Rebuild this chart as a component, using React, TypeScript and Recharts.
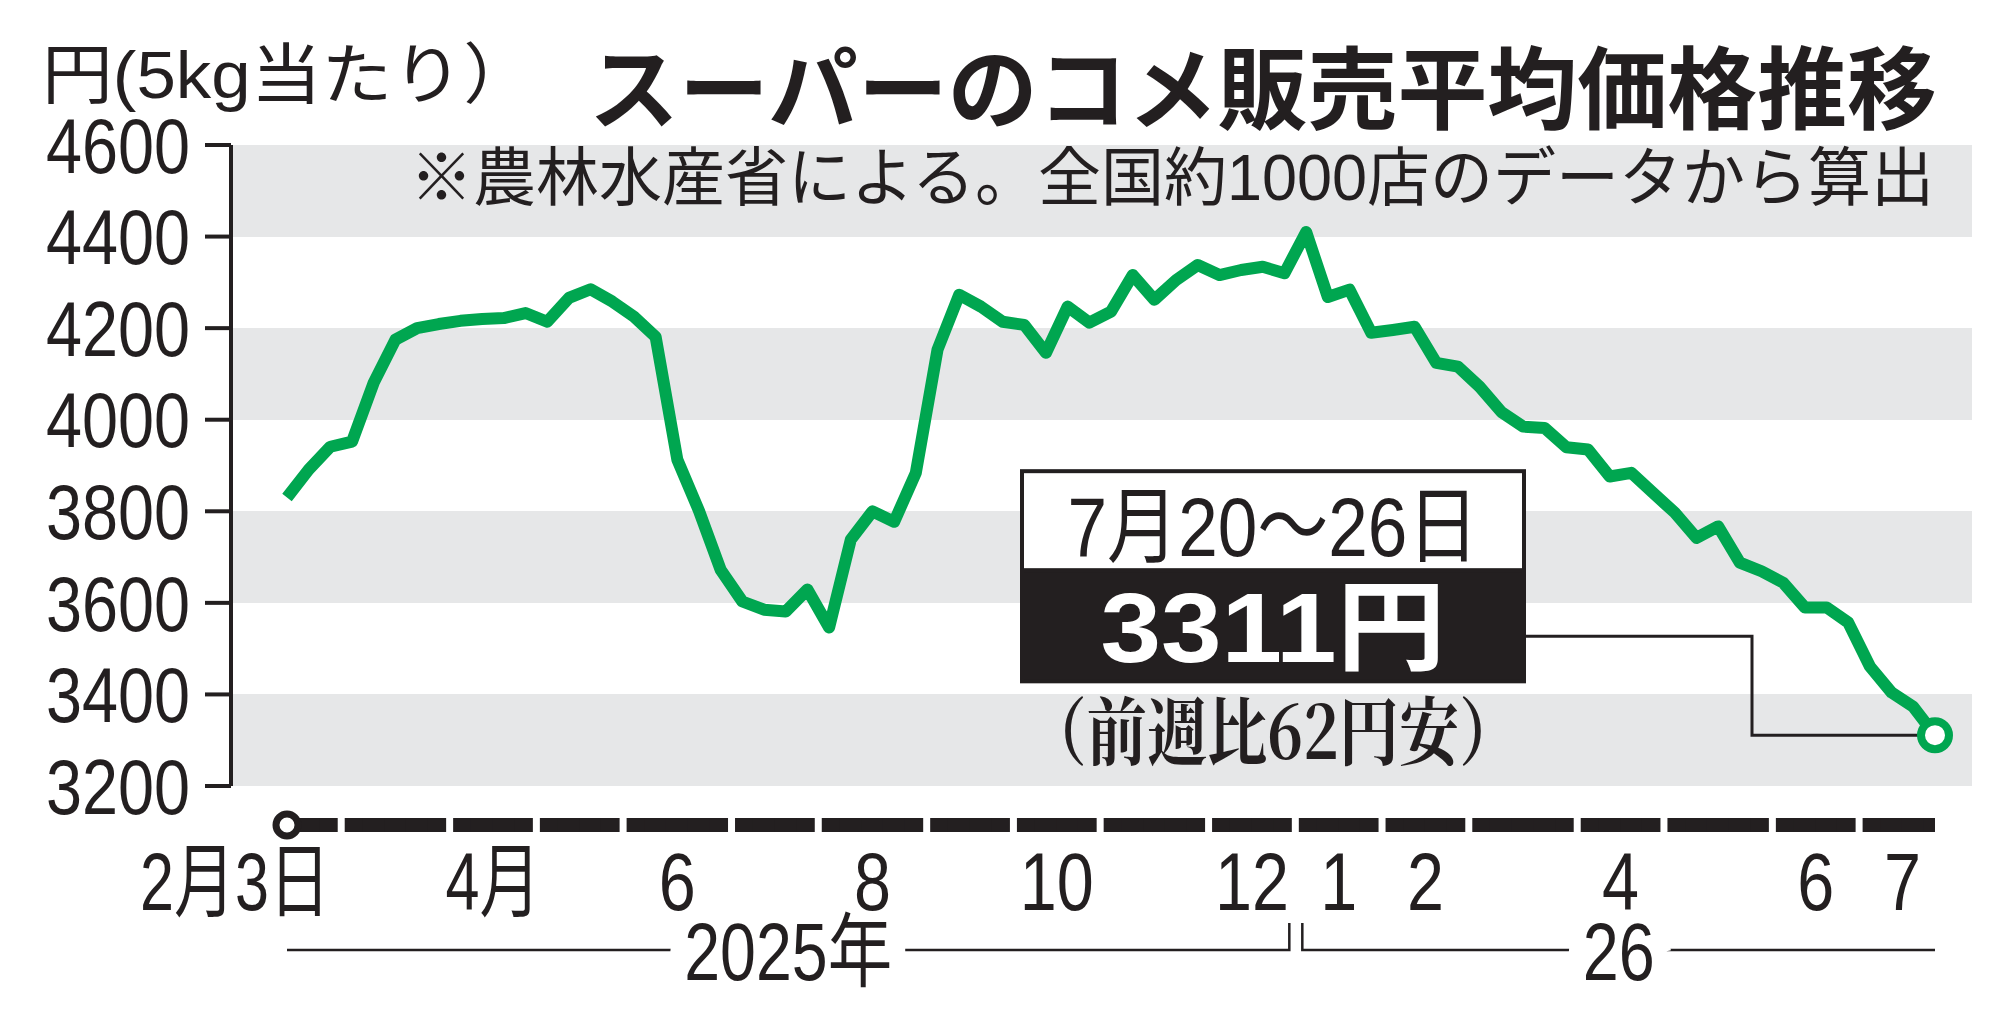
import { LineChart, Line, XAxis, YAxis, CartesianGrid } from 'recharts';

const INK = '#231f20';
const GREEN = '#00a650';
const BAND = '#e6e7e8';
const NARROW = "'Liberation Sans Narrow', 'Liberation Sans', 'Noto Sans CJK JP', sans-serif";
const GOTHIC = "'Noto Sans CJK JP', sans-serif";

// スーパーのコメ平均価格（円/5kg）、2025年2月3日の週から毎週
const prices = [
    3830, 3891, 3941, 3952, 4081, 4175, 4200, 4209, 4216, 4220,
    4222, 4233, 4214, 4266, 4285, 4258, 4225, 4181, 3913, 3801,
    3672, 3603, 3585, 3581, 3629, 3546, 3738, 3800, 3777, 3884,
    4153, 4273, 4247, 4214, 4207, 4146, 4247, 4212, 4236, 4316,
    4262, 4305, 4338, 4316, 4327, 4334, 4320, 4410, 4268, 4284,
    4190, 4196, 4203, 4124, 4116, 4072, 4017, 3985, 3982, 3940,
    3935, 3876, 3884, 3840, 3797, 3742, 3767, 3688, 3669, 3644,
    3590, 3590, 3557, 3461, 3404, 3373, 3311,
];
const firstWeek = '2025-02-03';

const yTicks = [3200, 3400, 3600, 3800, 4000, 4200, 4400, 4600];
const monthTickKeys = [
    '2025-02', '2025-04', '2025-06', '2025-08', '2025-10', '2025-12',
    '2026-01', '2026-02', '2026-04', '2026-06', '2026-07',
];
const monthTickLabels = ['2月3日', '4月', '6', '8', '10', '12', '1', '2', '4', '6', '7'];
const yearLabels = ['2025年', '26'];

const unitLabel = '円(5kg当たり）';
const title = 'スーパーのコメ販売平均価格推移';
const note = '※農林水産省による。全国約1000店のデータから算出';
const latestWeek = '7月20〜26日';
const latestPrice = '3311円';
const latestChange = '（前週比62円安）';

const addDays = (iso: string, n: number) => {
    const d = new Date(iso + 'T00:00:00Z');
    d.setUTCDate(d.getUTCDate() + n);
    return d.toISOString().slice(0, 10);
};

// 週の最終日で月・年に振り分ける
const data = prices.map((price, i) => {
    const start = addDays(firstWeek, 7 * i);
    const end = addDays(start, 6);
    return { i, start, month: end.slice(0, 7), year: end.slice(0, 4), price };
});

const monthTicks = monthTickKeys.map((key, k) => {
    const idx = data.filter((d) => d.month === key).map((d) => d.i);
    const value = k === 0 ? idx[0] : (idx[0] + idx[idx.length - 1]) / 2;
    return { value, label: monthTickLabels[k] };
});

// 縦長の書体に寄せるための文字幅
const squeeze = (s: string, digitW: number, cjkW: number) => ({
    textLength: Array.from(s).reduce((w, ch) => w + (/[0-9]/.test(ch) ? digitW : cjkW), 0),
    lengthAdjust: 'spacingAndGlyphs',
});

const YTick = ({ x, y, payload }: any) => (
    <text
        x={x}
        y={y}
        dy="0.36em"
        textAnchor="end"
        fontFamily={NARROW}
        fontSize={77}
        fill={INK}
        {...squeeze(String(payload.value), 36, 36)}
    >
        {payload.value}
    </text>
);

const MonthTick = ({ x, y, payload }: any) => {
    const k = monthTicks.findIndex((t) => t.value === payload.value);
    if (k < 0) return null;
    const label = monthTicks[k].label;
    const first = k === 0;
    return (
        <text
            x={first ? x + 43 : x}
            y={y + 124}
            textAnchor={first ? 'end' : 'middle'}
            fontFamily={NARROW}
            fontSize={81}
            fill={INK}
            {...squeeze(label, 37, 58)}
        >
            {label}
        </text>
    );
};

const renderDot = (props: any) => {
    const { cx, cy, index, points } = props;
    const key = `dot-${index}`;
    if (!points || cx == null) return <g key={key} />;
    const n = points.length;
    const a = points[0];
    const b = points.reduce((m: any, p: any) => (p.value > m.value ? p : m), a);
    const yOf = (v: number) => a.y + ((v - a.value) * (b.y - a.y)) / (b.value - a.value);
    const barY = yOf(yTicks[0]) + 39;
    const lineY = barY + 125;
    const d = data[index];
    const prev = points[index - 1];
    const next = points[index + 1];

    let left = prev ? (prev.x + cx) / 2 - 0.5 : cx;
    if (prev && data[index - 1].month !== d.month) left += 4;
    let right = next ? (cx + next.x) / 2 + 0.5 : cx;
    if (next && data[index + 1].month !== d.month) right -= 4;

    const parts: any[] = [
        <rect key="bar" x={left} y={barY - 7} width={right - left} height={14} fill={INK} />,
    ];

    // 年の区切り線
    if (!prev || data[index - 1].year !== d.year) {
        const yk = Array.from(new Set(data.map((r) => r.year))).indexOf(d.year);
        let last = index;
        while (last + 1 < n && data[last + 1].year === d.year) last++;
        const x0 = prev ? (prev.x + cx) / 2 + 7 : cx;
        const x1 = last + 1 < n ? (points[last].x + points[last + 1].x) / 2 - 6 : points[last].x;
        const path = [
            prev ? `M${x0},${lineY - 27}L${x0},${lineY}` : `M${x0},${lineY}`,
            `L${x1},${lineY}`,
            last + 1 < n ? `L${x1},${lineY - 27}` : '',
        ].join('');
        const label = yearLabels[yk];
        parts.push(
            <path key="yr" d={path} fill="none" stroke={INK} strokeWidth={2.5} />,
            <text
                key="yrt"
                x={(x0 + x1) / 2}
                y={lineY + 30}
                textAnchor="middle"
                fontFamily={NARROW}
                fontSize={81}
                fill={INK}
                stroke="#fff"
                strokeWidth={40}
                paintOrder="stroke"
                {...squeeze(label, 36, 64)}
            >
                {label}
            </text>,
        );
    }

    if (index === n - 1) {
        const boxL = cx - 913;
        const boxR = cx - 411;
        const boxT = cy - 264;
        const boxM = cy - 165;
        const boxB = cy - 54;
        const mid = (boxL + boxR) / 2;
        parts.push(
            <path
                key="conn"
                d={`M${boxR},${cy - 99}L${cx - 183},${cy - 99}L${cx - 183},${cy}L${cx},${cy}`}
                fill="none"
                stroke={INK}
                strokeWidth={3}
            />,
            <rect key="box" x={boxL} y={boxT} width={boxR - boxL} height={boxB - boxT} fill="#fff" stroke={INK} strokeWidth={4} />,
            <rect key="boxb" x={boxL} y={boxM} width={boxR - boxL} height={boxB - boxM} fill={INK} stroke={INK} strokeWidth={4} />,
            <text key="t1" x={mid} y={cy - 179} textAnchor="middle" fontFamily={NARROW} fontSize={84} fill={INK} textLength={411} lengthAdjust="spacingAndGlyphs">
                {latestWeek}
            </text>,
            <text key="t2" x={mid} y={cy - 73} textAnchor="middle" fontFamily="'Liberation Sans', 'Noto Sans CJK JP', sans-serif" fontWeight={700} fontSize={99} fill="#fff" textLength={345} lengthAdjust="spacingAndGlyphs">
                {latestPrice}
            </text>,
            <text key="t3" x={mid} y={cy + 24} textAnchor="middle" fontFamily="'Noto Serif CJK JP', 'Noto Sans CJK JP', serif" fontWeight={700} fontSize={74} fill={INK} textLength={493} lengthAdjust="spacingAndGlyphs">
                {latestChange}
            </text>,
            <circle key="end" cx={cx} cy={cy} r={14} fill="#fff" stroke={GREEN} strokeWidth={8} />,
            <circle key="start" cx={a.x} cy={barY} r={11} fill="#fff" stroke={INK} strokeWidth={7} />,
        );
    }
    return <g key={key}>{parts}</g>;
};

export default function App() {
    return (
        <div style={{ position: 'relative', width: 2008, height: 1016, background: '#fff' }}>
            <style>{'body{margin:0}'}</style>
            <LineChart
                width={2008}
                height={1016}
                data={data}
                margin={{ top: 145, right: 36, bottom: 0, left: 0 }}
            >
                <CartesianGrid vertical={false} stroke="none" horizontalFill={[BAND, '#ffffff']} />
                <XAxis
                    dataKey="i"
                    type="number"
                    domain={[0, prices.length - 1]}
                    ticks={monthTicks.map((t) => t.value)}
                    interval={0}
                    padding={{ left: 56, right: 37 }}
                    axisLine={false}
                    tickLine={false}
                    tickSize={0}
                    tickMargin={0}
                    height={230}
                    tick={MonthTick}
                />
                <YAxis
                    domain={[3200, 4600]}
                    ticks={yTicks}
                    interval={0}
                    width={231}
                    axisLine={{ stroke: INK, strokeWidth: 4 }}
                    tickLine={{ stroke: INK, strokeWidth: 4 }}
                    tickSize={26}
                    tickMargin={15}
                    tick={YTick}
                />
                <Line
                    type="linear"
                    dataKey="price"
                    stroke={GREEN}
                    strokeWidth={12}
                    strokeLinejoin="round"
                    dot={renderDot}
                    activeDot={false}
                    isAnimationActive={false}
                />
            </LineChart>
            <svg
                width={2008}
                height={1016}
                style={{ position: 'absolute', left: 0, top: 0, pointerEvents: 'none' }}
            >
                <text x={42} y={98} fontFamily={NARROW} fontSize={66} fill={INK} textLength={492} lengthAdjust="spacingAndGlyphs">
                    {unitLabel}
                </text>
                <text x={1937} y={122} textAnchor="end" fontFamily={GOTHIC} fontWeight={700} fontSize={90} fill={INK} textLength={1348} lengthAdjust="spacingAndGlyphs">
                    {title}
                </text>
                <text x={1934} y={200} textAnchor="end" fontFamily={NARROW} fontSize={64} fill={INK} textLength={1524} lengthAdjust="spacingAndGlyphs">
                    {note}
                </text>
            </svg>
        </div>
    );
}
